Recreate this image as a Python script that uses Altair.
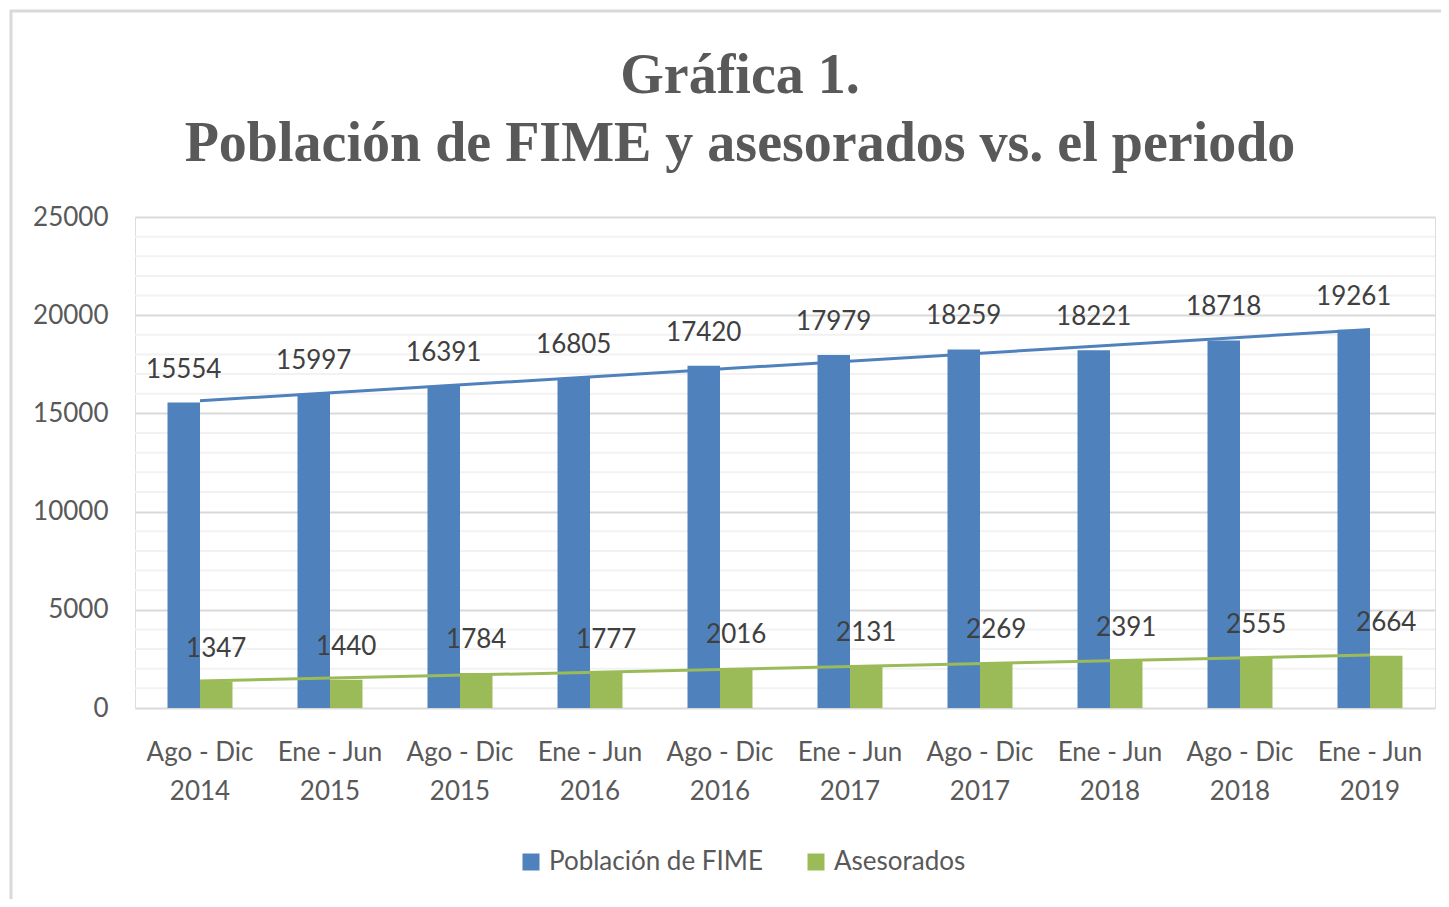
import json
import altair as alt
import pandas as pd

FONT = "Lato"
TITLE_FONT = "Liberation Serif"

periodos = ["Ago - Dic|2014", "Ene - Jun|2015", "Ago - Dic|2015", "Ene - Jun|2016",
            "Ago - Dic|2016", "Ene - Jun|2017", "Ago - Dic|2017", "Ene - Jun|2018",
            "Ago - Dic|2018", "Ene - Jun|2019"]
poblacion = [15554, 15997, 16391, 16805, 17420, 17979, 18259, 18221, 18718, 19261]
asesorados = [1347, 1440, 1784, 1777, 2016, 2131, 2269, 2391, 2555, 2664]
series = ["Población de FIME", "Asesorados"]
colores = ["#4f81bd", "#9bbb59"]
y_major = list(range(0, 25001, 5000))
y_minor = [v for v in range(0, 25001, 1000) if v % 5000 != 0]

rows = []
for i in range(len(periodos)):
    rows.append({"idx": i, "serie": series[0], "valor": poblacion[i]})
    rows.append({"idx": i, "serie": series[1], "valor": asesorados[i]})
df = pd.DataFrame(rows)

label_expr = "split(" + json.dumps(periodos, ensure_ascii=False) + "[datum.value], '|')"

x_scale = alt.Scale(domain=list(range(len(periodos))), paddingInner=0.5, paddingOuter=0.25)
y_scale = alt.Scale(domain=[0, 25000], nice=False)

x_enc = alt.X("idx:O", title=None, scale=x_scale,
              axis=alt.Axis(labelExpr=label_expr, labelAngle=0, ticks=False, domain=False,
                            grid=False, labelPadding=31, labelFont=FONT, labelFontSize=26,
                            labelColor="#595959", labelLineHeight=39, labelBaseline="top"))
y_enc = alt.Y("valor:Q", title=None, scale=y_scale,
              axis=alt.Axis(values=y_major, format="d", labelOverlap=False, ticks=False,
                            domain=False, labelPadding=27, labelFont=FONT, labelFontSize=26,
                            labelColor="#595959", gridWidth=2, gridColor="#d9d9d9"))

base = alt.Chart(df)

minor_grid = alt.Chart(pd.DataFrame({"v": y_minor})).mark_rule(
    color="#f2f2f2", strokeWidth=2
).encode(y=alt.Y("v:Q", scale=y_scale))

bars = base.mark_bar().encode(
    x=x_enc,
    y=y_enc,
    xOffset=alt.XOffset("serie:N", sort=series, scale=alt.Scale(paddingInner=0, paddingOuter=0)),
    color=alt.Color("serie:N", sort=series,
                    scale=alt.Scale(domain=series, range=colores),
                    legend=alt.Legend(orient="none", legendX=383, legendY=632,
                                      direction="horizontal", title=None,
                                      symbolType="square", symbolSize=289,
                                      symbolStrokeWidth=0, labelFont=FONT,
                                      labelFontSize=26, labelColor="#595959",
                                      labelLimit=0, columnPadding=40, labelOffset=5)),
)

labels = base.mark_text(font=FONT, fontSize=26, color="#404040", baseline="middle", dy=-33).encode(
    x=alt.X("idx:O", scale=x_scale),
    xOffset=alt.XOffset("serie:N", sort=series, scale=alt.Scale(paddingInner=0, paddingOuter=0)),
    y=alt.Y("valor:Q", scale=y_scale),
    text=alt.Text("valor:Q", format="d"),
)

trend = base.transform_regression("idx", "valor", groupby=["serie"]).mark_line(strokeWidth=3).encode(
    x=alt.X("idx:O", scale=x_scale),
    y=alt.Y("valor:Q", scale=y_scale),
    stroke=alt.Stroke("serie:N", scale=alt.Scale(domain=series, range=colores), legend=None),
)

frame = alt.Chart(pd.DataFrame({"k": [0]})).mark_rect(
    fillOpacity=0, stroke="#d9d9d9", strokeWidth=3
).encode(x=alt.value(-124), x2=alt.value(1330), y=alt.value(-206), y2=alt.value(700))

chart = alt.layer(frame, minor_grid, bars, trend, labels).properties(
    width=1300,
    height=491,
    autosize=alt.AutoSizeParams(type="none"),
    padding={"left": 127, "top": 209, "right": 6, "bottom": 191},
    title=alt.TitleParams(
        text=["Gráfica 1.", "Población de FIME y asesorados vs. el periodo"],
        font=TITLE_FONT, fontWeight="bold", fontSize=56, color="#595959",
        anchor="middle", dx=-45, offset=-163, lineHeight=68,
    ),
).configure_view(
    stroke="transparent", strokeWidth=0, strokeOpacity=0
).configure_axis(grid=True).configure_axisX(grid=False).configure(background="white")

chart.save("out.html", embed_options={"renderer": "svg", "actions": False})
